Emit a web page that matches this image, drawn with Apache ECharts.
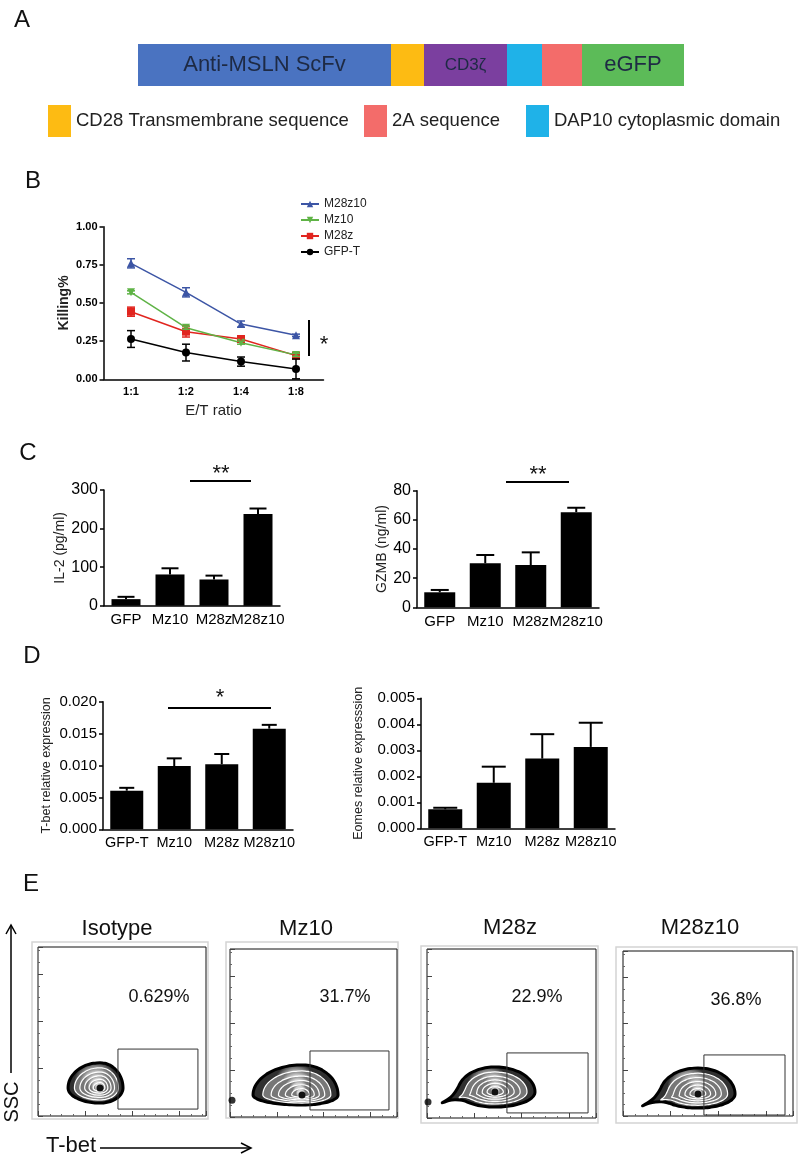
<!DOCTYPE html>
<html>
<head>
<meta charset="utf-8">
<script src="https://cdn.jsdelivr.net/npm/echarts/dist/echarts.min.js"></script>
<style>
html, body {margin: 0; padding: 0; background: #fff;}
#main {width: 800px; height: 1159px;}
</style>
</head>
<body>
<div id="main"></div>
<script>
const FONT = '"Liberation Sans", Arial, sans-serif';

// A - CAR construct
const segmentNames = ['Anti-MSLN ScFv', 'CD28 Transmembrane sequence', 'CD3ζ', 'DAP10 cytoplasmic domain', '2A sequence', 'eGFP'];
const segmentLengths = [253, 33, 83, 35, 40, 102];
const segmentLabels = ['Anti-MSLN ScFv', '', 'CD3ζ', '', '', 'eGFP'];
const segmentLegend = ['CD28 Transmembrane sequence', '2A sequence', 'DAP10 cytoplasmic domain'];

// B - killing
const ratioLabels = ['1:1', '1:2', '1:4', '1:8'];
const killM28z10 = [0.76, 0.57, 0.362, 0.288];
const errM28z10 = [0.03, 0.03, 0.02, 0.008];
const killMz10 = [0.57, 0.338, 0.24, 0.16];
const errMz10 = [0.01, 0.01, 0.01, 0.01];
const killM28z = [0.443, 0.312, 0.264, 0.155];
const errM28z = [0.03, 0.035, 0.015, 0.01];
const killGFP = [0.264, 0.175, 0.116, 0.068];
const errGFP = [0.055, 0.055, 0.03, 0.065];

// C - cytokines
const groupsC = ['GFP', 'Mz10', 'M28z', 'M28z10'];
const il2Mean = [17, 81, 68, 238];
const il2Err = [6, 16, 10, 14];
const gzmbMean = [10.3, 30.2, 29, 65.3];
const gzmbErr = [1.6, 5.7, 8.7, 3];

// D - transcription factors
const groupsD = ['GFP-T', 'Mz10', 'M28z', 'M28z10'];
const tbetMean = [0.00605, 0.00992, 0.0102, 0.01577];
const tbetErr = [0.00045, 0.0012, 0.0016, 0.0006];
const eomesMean = [0.00073, 0.00175, 0.00268, 0.00313];
const eomesErr = [0.00006, 0.00062, 0.00094, 0.00093];

// E - flow plots (axis units 0..100)
const flowTitles = ['Isotype', 'Mz10', 'M28z', 'M28z10'];
const flowPercent = ['0.629%', '31.7%', '22.9%', '36.8%'];
const flowCenter = [[36.9, 16.6], [43.1, 13.1], [40.2, 15.4], [44.1, 13.3]];
const flowSpread = [[19, 13.7, 14.9, 8.9], [29.3, 21.6, 17.9, 6], [22, 23.7, 14.8, 8.9], [22.4, 21.8, 15.8, 8.5]]; // left,right,up,down
const flowTail = [[0, 0], [0, 0], [-31.4, -6.5], [-33, -7.3]];
const flowGate = [[47.6, 4.1, 95.2, 39.6], [47.9, 4.2, 95.2, 39.3], [47.3, 3, 95.3, 38.5], [47.6, 0.6, 95.3, 37]];
const flowStray = [[], [[1.2, 10]], [[0.6, 9.5]], []];

const segColors = ['#4a73c1', '#fdbb13', '#7b3f9f', '#1fb2e8', '#f36c6a', '#5cbb58'];
const flowLevels = [1, 0.8, 0.63, 0.48, 0.34, 0.21];

const grids = [
    {left: 138, top: 44, width: 546, height: 42},
    {left: 103.5, top: 226.7, width: 220, height: 152.6},
    {left: 104, top: 490, width: 176, height: 115.7},
    {left: 417, top: 490.7, width: 182, height: 116.6},
    {left: 103, top: 701.7, width: 190, height: 127.6},
    {left: 421, top: 698.3, width: 194, height: 130},
    {left: 38, top: 947, width: 168, height: 169},
    {left: 230, top: 949, width: 167, height: 168},
    {left: 427, top: 949, width: 169, height: 169},
    {left: 623, top: 951, width: 170, height: 165}
].map((g, i) => Object.assign({outerBoundsMode: 'none', containLabel: false}, g,
    i >= 6 ? {show: true, borderColor: '#111', borderWidth: 1} : {}));

const blackLine = {lineStyle: {color: '#000', width: 1.5}};

function catAxis(gi, data, fontSize, margin, bold) {
    return {
        gridIndex: gi, type: 'category', data: data,
        axisLine: blackLine,
        axisTick: {alignWithLabel: true, length: 4, lineStyle: {color: '#000', width: 1.5}},
        axisLabel: {interval: 0, color: '#000', fontSize: fontSize, margin: margin,
            fontFamily: FONT, fontWeight: bold ? 'bold' : 'normal'}
    };
}

function valAxis(gi, max, interval, digits, fontSize, name, nameSize, nameGap, bold) {
    return {
        gridIndex: gi, type: 'value', min: 0, max: max, interval: interval,
        axisLine: {show: true, lineStyle: {color: '#000', width: 1.5}},
        axisTick: {show: true, length: 4, lineStyle: {color: '#000', width: 1.5}},
        splitLine: {show: false},
        axisLabel: {color: '#000', fontSize: fontSize, margin: 6, fontFamily: FONT,
            fontWeight: bold ? 'bold' : 'normal', formatter: v => v.toFixed(digits)},
        name: name, nameLocation: 'middle', nameRotate: 90, nameGap: nameGap,
        nameTextStyle: {fontSize: nameSize, fontFamily: FONT, color: '#222', fontWeight: bold ? 'bold' : 'normal'}
    };
}

function flowAxis(gi) {
    return {
        gridIndex: gi, type: 'value', min: 0, max: 100, interval: 28,
        axisLine: {show: false},
        axisTick: {show: true, inside: true, length: 5, lineStyle: {color: '#444'}},
        minorTick: {show: true, splitNumber: 4, length: 2, lineStyle: {color: '#666'}},
        axisLabel: {show: false}, splitLine: {show: false}
    };
}

const xAxes = [
    {gridIndex: 0, type: 'value', min: 0, max: 546, show: false},
    Object.assign(catAxis(1, ratioLabels, 11, 7, true), {
        name: 'E/T ratio', nameLocation: 'middle', nameGap: 24,
        nameTextStyle: {fontSize: 15, fontFamily: FONT, color: '#222'}
    }),
    catAxis(2, groupsC, 15, 7),
    catAxis(3, groupsC, 15, 7),
    catAxis(4, groupsD, 14.5, 6),
    catAxis(5, groupsD, 14.5, 6)
];
const yAxes = [
    {gridIndex: 0, type: 'category', data: ['construct'], show: false},
    valAxis(1, 1, 0.25, 2, 11, 'Killing%', 14, 32, true),
    valAxis(2, 300, 100, 0, 16, 'IL-2 (pg/ml)', 14, 33),
    valAxis(3, 80, 20, 0, 16, 'GZMB (ng/ml)', 14, 28),
    valAxis(4, 0.02, 0.005, 3, 15, 'T-bet relative expression', 12.5, 50),
    valAxis(5, 0.005, 0.001, 3, 15, 'Eomes relative expresssion', 12.5, 56)
];
for (let i = 0; i < 4; i++) {
    xAxes.push(flowAxis(6 + i));
    yAxes.push(flowAxis(6 + i));
}

const series = [];

// A
segmentNames.forEach((n, i) => {
    series.push({
        name: n, type: 'bar', stack: 'car', xAxisIndex: 0, yAxisIndex: 0,
        data: [segmentLengths[i]], barWidth: 42,
        itemStyle: {color: segColors[i]},
        label: {show: segmentLabels[i] !== '', position: 'inside', formatter: segmentLabels[i],
            color: '#1e2a44', fontFamily: FONT, fontSize: i === 2 ? 17 : 22}
    });
});

// error bars
function errSeries(name, idx, means, errs, color, cap, upperOnly, lw) {
    return {
        name: name, type: 'custom', xAxisIndex: idx, yAxisIndex: idx, z: 4,
        data: means.map((m, i) => [i, m, errs[i]]),
        renderItem: (params, api) => {
            const x = api.value(0), m = api.value(1), e = api.value(2);
            const top = api.coord([x, m + e]);
            const bot = api.coord([x, upperOnly ? m : m - e]);
            const st = {stroke: color, lineWidth: lw};
            const ch = [
                {type: 'line', shape: {x1: top[0], y1: top[1], x2: bot[0], y2: bot[1]}, style: st},
                {type: 'line', shape: {x1: top[0] - cap / 2, y1: top[1], x2: top[0] + cap / 2, y2: top[1]}, style: st}
            ];
            if (!upperOnly) {
                ch.push({type: 'line', shape: {x1: bot[0] - cap / 2, y1: bot[1], x2: bot[0] + cap / 2, y2: bot[1]}, style: st});
            }
            return {type: 'group', children: ch};
        }
    };
}

// B
const bLines = [
    ['GFP-T', killGFP, errGFP, '#000000', 'circle', 0],
    ['M28z', killM28z, errM28z, '#e1251f', 'rect', 0],
    ['Mz10', killMz10, errMz10, '#5fb346', 'triangle', 180],
    ['M28z10', killM28z10, errM28z10, '#3c55a5', 'triangle', 0]
];
bLines.forEach(b => {
    series.push({
        name: b[0], type: 'line', xAxisIndex: 1, yAxisIndex: 1, data: b[1],
        symbol: b[4], symbolRotate: b[5], symbolSize: 8,
        itemStyle: {color: b[3]}, lineStyle: {color: b[3], width: 1.5}, z: 3
    });
    series.push(errSeries(b[0] + ' SEM', 1, b[1], b[2], b[3], 8, false, 1.5));
});

// C, D bars
function barSet(idx, means, errs, width, cap) {
    series.push({type: 'bar', xAxisIndex: idx, yAxisIndex: idx, data: means, barWidth: width,
        itemStyle: {color: '#000'}});
    series.push(errSeries('sem' + idx, idx, means, errs, '#000', cap, true, 2));
}
barSet(2, il2Mean, il2Err, 29, 17);
barSet(3, gzmbMean, gzmbErr, 31, 18);
barSet(4, tbetMean, tbetErr, 33, 15);
barSet(5, eomesMean, eomesErr, 34, 24);

// E - contour blobs and gates
function blobPoints(api, i, s) {
    const c = flowCenter[i], sp = flowSpread[i], tail = flowTail[i];
    const hasTail = tail[0] !== 0 || tail[1] !== 0;
    const tailAng = Math.atan2(tail[1], tail[0]);
    const pts = [];
    const N = 60;
    for (let k = 0; k < N; k++) {
        const t = 2 * Math.PI * k / N;
        const ct = Math.cos(t), st = Math.sin(t);
        let dx = s * (ct >= 0 ? sp[1] : sp[0]) * ct;
        let dy = s * (st >= 0 ? sp[2] : sp[3]) * st;
        if (hasTail) {
            const d = Math.abs(Math.atan2(Math.sin(t - tailAng), Math.cos(t - tailAng)));
            let w = Math.max(0, 1 - d / 0.5);
            w = w * w * Math.pow(s, 3);
            dx = dx * (1 - w) + tail[0] * s * w;
            dy = dy * (1 - w) + tail[1] * s * w;
        }
        pts.push(api.coord([c[0] + dx, c[1] + dy]));
    }
    return pts;
}

for (let i = 0; i < 4; i++) {
    series.push({
        type: 'custom', xAxisIndex: 6 + i, yAxisIndex: 6 + i, clip: true,
        data: [flowCenter[i]],
        renderItem: (params, api) => {
            const ch = flowLevels.map((s, li) => ({
                type: 'polygon',
                shape: {points: blobPoints(api, i, s), smooth: 0.3},
                style: {
                    fill: new echarts.graphic.RadialGradient(0.5, 0.5, 0.5, li === 0 ? [
                        {offset: 0, color: '#e6e6e6'},
                        {offset: 0.65, color: '#b0b0b0'},
                        {offset: 1, color: '#303030'}
                    ] : [
                        {offset: 0, color: '#f2f2f2'},
                        {offset: 0.7, color: '#cfcfcf'},
                        {offset: 1, color: '#777'}
                    ]),
                    stroke: li === 0 ? '#000' : '#fff',
                    lineWidth: li === 0 ? 3 : 1.2
                }
            }));
            const c = api.coord(flowCenter[i]);
            ch.push({type: 'circle', shape: {cx: c[0], cy: c[1], r: 3.5}, style: {fill: '#111'}});
            const g = flowGate[i];
            const p0 = api.coord([g[0], g[3]]), p1 = api.coord([g[2], g[1]]);
            ch.push({type: 'rect', shape: {x: p0[0], y: p0[1], width: p1[0] - p0[0], height: p1[1] - p0[1]},
                style: {fill: 'none', stroke: '#333', lineWidth: 1}});
            return {type: 'group', children: ch};
        }
    });
    if (flowStray[i].length) {
        series.push({type: 'scatter', xAxisIndex: 6 + i, yAxisIndex: 6 + i, data: flowStray[i],
            symbolSize: 7, itemStyle: {color: '#000'}, clip: false});
    }
}

// legends
const legends = [
    {left: 48, top: 105},
    {left: 364, top: 105},
    {left: 526, top: 105}
].map((p, k) => Object.assign({
    data: [segmentLegend[k]], icon: 'rect', itemWidth: 23, itemHeight: 32,
    selectedMode: false, padding: 0, itemGap: 0,
    textStyle: {fontFamily: FONT, fontSize: 18.5, color: '#222'}
}, p));
legends.push({
    data: ['M28z10', 'Mz10', 'M28z', 'GFP-T'], orient: 'vertical', left: 300, top: 198,
    itemWidth: 18, itemHeight: 8, itemGap: 4, padding: 0, selectedMode: false,
    textStyle: {fontFamily: FONT, fontSize: 12, color: '#222', lineHeight: 12}
});

// annotations
function txt(x, y, text, size, extra) {
    return {type: 'text', x: x, y: y, style: Object.assign({text: text, fontSize: size, fontFamily: FONT,
        fill: '#111', textAlign: 'center', textVerticalAlign: 'middle'}, extra || {})};
}
function ln(x1, y1, x2, y2, w) {
    return {type: 'line', shape: {x1: x1, y1: y1, x2: x2, y2: y2}, style: {stroke: '#000', lineWidth: w || 2}};
}
const frames = [[32, 942, 176, 177], [226, 942, 172, 176], [421, 946, 177, 177], [616, 947, 181, 176]];
const titlePos = [[117, 929], [306, 929], [510, 928], [700, 928]];
const pctPos = [[159, 997], [345, 997], [537, 997], [736, 1000]];

const sscLabel = txt(12, 1102, 'SSC', 20);
sscLabel.rotation = Math.PI / 2;

const graphic = [
    txt(22, 20, 'A', 24), txt(33, 181, 'B', 24), txt(28, 453, 'C', 24),
    txt(32, 656, 'D', 24), txt(31, 884, 'E', 24),
    ln(309, 320, 309, 356, 2), txt(324, 345, '*', 22),
    ln(190, 481, 251, 481, 2), txt(221, 474, '**', 22),
    ln(506, 482, 569, 482, 2), txt(538, 475, '**', 22),
    ln(168, 708, 271, 708, 2), txt(220, 698, '*', 22),
    // SSC / T-bet arrows
    ln(11, 1073, 11, 926, 1.5),
    {type: 'polyline', shape: {points: [[6, 934], [11, 925], [16, 934]]}, style: {stroke: '#000', lineWidth: 1.5, fill: 'none'}},
    sscLabel,
    ln(100, 1148, 250, 1148, 1.5),
    {type: 'polyline', shape: {points: [[241, 1143], [251, 1148], [241, 1153]]}, style: {stroke: '#000', lineWidth: 1.5, fill: 'none'}},
    txt(71, 1146, 'T-bet', 22)
];
frames.forEach((f, i) => {
    graphic.push({type: 'rect', shape: {x: f[0], y: f[1], width: f[2], height: f[3]},
        style: {fill: 'none', stroke: '#d4d4d4', lineWidth: 1.5}, z: -1});
    graphic.push(txt(titlePos[i][0], titlePos[i][1], flowTitles[i], 22));
    graphic.push(txt(pctPos[i][0], pctPos[i][1], flowPercent[i], 18));
});

const option = {
    animation: false,
    backgroundColor: '#fff',
    textStyle: {fontFamily: FONT},
    grid: grids,
    xAxis: xAxes,
    yAxis: yAxes,
    legend: legends,
    series: series,
    graphic: graphic
};

const myChart = echarts.init(document.getElementById('main'));
myChart.setOption(option);
</script>
</body>
</html>
